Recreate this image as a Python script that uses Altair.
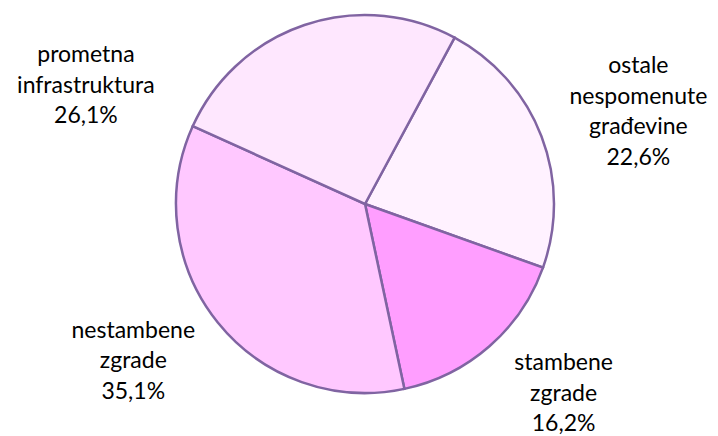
import math
import altair as alt
import pandas as pd

# data
categories = ["ostale nespomenute građevine", "stambene zgrade", "nestambene zgrade", "prometna infrastruktura"]
label_lines = ["ostale\nnespomenute\ngrađevine", "stambene\nzgrade", "nestambene\nzgrade", "prometna\ninfrastruktura"]
values = [22.6, 16.2, 35.1, 26.1]
colors = ["#FFF2FF", "#FF9EFF", "#FFC8FF", "#FEE7FE"]

df = pd.DataFrame({
    "cat": categories,
    "lines": label_lines,
    "value": values,
    "order": list(range(len(values))),
})

# layout
W, H = 718, 436
CX, CY = 365, 204
R = 189
START = math.radians(28.3)
LABEL_R = 250
label_offsets = {
    "ostale nespomenute građevine": (40, -48),
    "stambene zgrade": (34, -29),
    "nestambene zgrade": (-37, -30),
    "prometna infrastruktura": (-199, 88),
}

theta_scale = alt.Scale(domain=[0, 100], range=[START, START + 2 * math.pi])

base = alt.Chart(df)

pie = base.mark_arc(outerRadius=R, stroke="#8064A2", strokeWidth=2.5).encode(
    theta=alt.Theta("value:Q", stack=True, scale=theta_scale),
    order=alt.Order("order:Q"),
    color=alt.Color("cat:N", scale=alt.Scale(domain=categories, range=colors), legend=None),
    x=alt.value(CX),
    y=alt.value(CY),
)

layers = [pie]
for c in categories:
    dx, dy = label_offsets[c]
    t = (
        base.transform_window(cum="sum(value)", sort=[alt.SortField("order")])
        .transform_calculate(
            mid="datum.cum - datum.value / 2",
            label="datum.lines + '\\n' + replace(format(datum.value, '.1f'), '.', ',') + '%'",
        )
        .transform_filter(alt.datum.cat == c)
        .mark_text(
            radius=LABEL_R, dx=dx, dy=dy, font="Lato", fontSize=23, lineHeight=30.5,
            lineBreak="\n", align="center", baseline="middle", color="#000000",
        )
        .encode(
            theta=alt.Theta("mid:Q", stack=None, scale=theta_scale),
            text="label:N",
            x=alt.value(CX),
            y=alt.value(CY),
        )
    )
    layers.append(t)

chart = alt.layer(*layers).properties(
    width=W, height=H, autosize=alt.AutoSizeParams(type="none"), padding=0,
    background="white",
).configure_view(stroke=None)

chart.save("out.html", embed_options={"renderer": "svg", "actions": False})
